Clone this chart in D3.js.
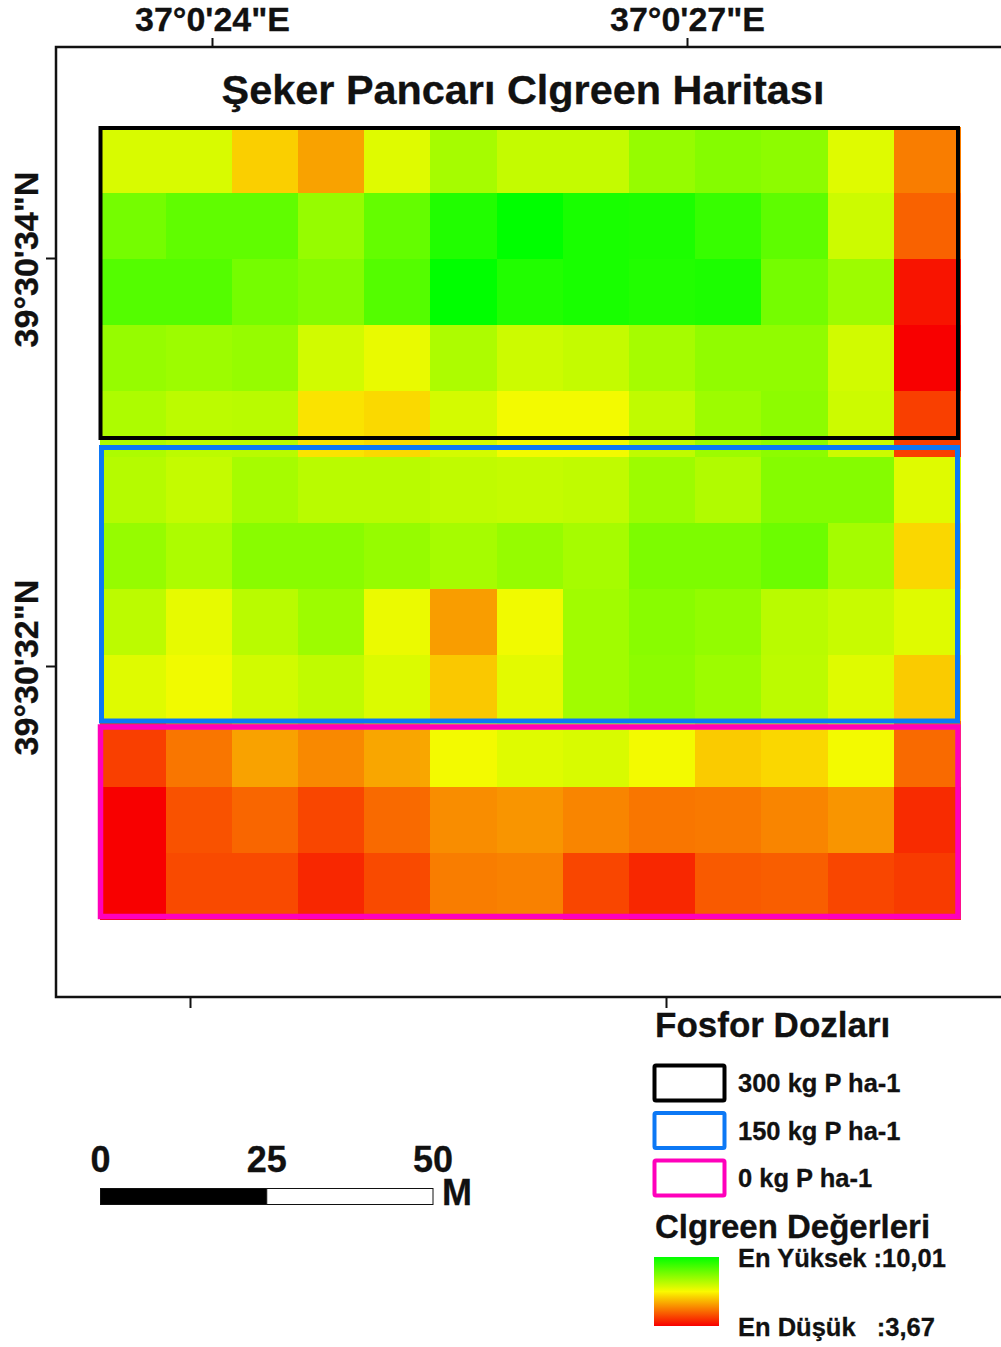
<!DOCTYPE html>
<html>
<head>
<meta charset="utf-8">
<title>Şeker Pancarı Clgreen Haritası</title>
<script src="https://cdn.jsdelivr.net/npm/d3@7"></script>
<style>
  html, body { margin: 0; padding: 0; background: #fff; }
  svg { display: block; }
  text { font-family: "Liberation Sans", Arial, sans-serif; font-weight: bold; fill: #111; stroke: #111; stroke-width: 0.3; white-space: pre; }
</style>
</head>
<body>
<svg width="1001" height="1347"></svg>
<script>
// Clgreen value per raster cell, north to south
const row0 = [7.27, 7.27, 6.30, 5.72, 7.18, 7.90, 7.52, 7.52, 8.11, 8.32, 8.22, 7.18, 5.25];
const row1 = [8.53, 8.79, 8.79, 8.11, 8.74, 9.59, 10.01, 9.71, 9.66, 9.31, 8.82, 7.42, 4.91];
const row2 = [8.95, 8.95, 8.53, 8.32, 8.95, 10.01, 9.59, 9.71, 9.59, 9.66, 8.53, 8.02, 3.92];
const row3 = [8.11, 8.02, 8.11, 7.36, 7.05, 7.82, 7.42, 7.52, 7.90, 8.17, 8.17, 7.36, 3.67];
const row4 = [7.82, 7.62, 7.67, 6.55, 6.42, 7.32, 6.93, 6.93, 7.57, 8.02, 8.22, 7.42, 4.47];
const row5 = [7.72, 7.52, 7.90, 7.67, 7.67, 7.57, 7.52, 7.57, 8.02, 7.77, 8.32, 8.32, 7.18];
const row6 = [8.11, 7.82, 8.27, 8.27, 8.11, 7.90, 8.11, 7.90, 8.42, 8.42, 8.64, 7.92, 6.40];
const row7 = [7.62, 7.08, 7.67, 8.02, 7.03, 5.66, 6.95, 7.97, 8.27, 8.15, 7.67, 7.47, 7.18];
const row8 = [7.18, 6.95, 7.36, 7.57, 7.23, 6.21, 7.13, 7.97, 8.22, 8.02, 7.62, 7.18, 6.25];
const row9 = [4.47, 5.16, 5.72, 5.41, 5.78, 6.93, 7.18, 7.27, 6.93, 6.25, 6.40, 6.93, 5.01];
const row10 = [3.67, 4.71, 4.96, 4.56, 5.01, 5.46, 5.56, 5.36, 5.16, 5.21, 5.36, 5.56, 4.22];
const row11 = [3.67, 4.61, 4.61, 4.17, 4.61, 5.26, 5.31, 4.56, 4.17, 4.81, 4.86, 4.56, 4.42];
const rows = [row0, row1, row2, row3, row4, row5, row6, row7, row8, row9, row10, row11];

const doseLabels = ['300 kg P ha-1', '150 kg P ha-1', '0 kg P ha-1'];
const doseColors = ['#000000', '#0c78f5', '#ff00bb'];

const lonTicks = [24, 27];
const latTicks = [34, 32];
const bottomTicks = [0, 1];
const scaleBarTicks = [0, 25, 50];
const minValue = 3.67;
const maxValue = 10.01;

const svg = d3.select('svg');

const color = d3.scaleLinear()
    .domain([minValue, (minValue + maxValue) / 2, maxValue])
    .range(['#f80000', '#fafa00', '#00ff00']);

const x = d3.scaleBand().domain(d3.range(row0.length)).range([99.5, 960]);
const y = d3.scaleBand().domain(d3.range(rows.length)).range([126.5, 919.5]);

// raster
const raster = svg.append('g');
rows.forEach((values, r) => {
    raster.selectAll(null)
        .data(values)
        .join('rect')
        .attr('x', (d, c) => x(c))
        .attr('y', y(r))
        .attr('width', x.bandwidth() + 0.5)
        .attr('height', y.bandwidth() + 0.5)
        .attr('fill', d => color(d))
        .attr('shape-rendering', 'crispEdges');
});

// dose plot outlines, they sit a little off the raster rows
const plotLeft = [100.5, 101.5, 100.5];
const plotRight = [958, 957.5, 958];
const plotTop = [128, 447.5, 727];
const plotBottom = [438, 721, 916.5];
const plotStroke = [4, 5, 5.5];

svg.append('g').selectAll('rect')
    .data(doseLabels)
    .join('rect')
    .attr('x', (d, i) => plotLeft[i])
    .attr('y', (d, i) => plotTop[i])
    .attr('width', (d, i) => plotRight[i] - plotLeft[i])
    .attr('height', (d, i) => plotBottom[i] - plotTop[i])
    .attr('fill', 'none')
    .attr('stroke', (d, i) => doseColors[i])
    .attr('stroke-width', (d, i) => plotStroke[i]);

// map frame
const frame = svg.append('g');
frame.append('path')
    .attr('d', 'M1001,47H56V997H1001')
    .attr('fill', 'none')
    .attr('stroke', '#111')
    .attr('stroke-width', 2.5);

const lon = d3.scaleLinear().domain([24, 27]).range([212, 687]);
const lat = d3.scaleLinear().domain([34, 32]).range([258, 666]);
const lonBottom = d3.scaleLinear().domain([0, 1]).range([190, 666]);

const topAxis = svg.append('g')
    .attr('transform', 'translate(0,47)')
    .call(d3.axisTop(lon).tickValues(lonTicks).tickSize(9).tickPadding(7).tickFormat(d => `37°0'${d}"E`));
topAxis.select('.domain').remove();
topAxis.selectAll('text').attr('font-size', 34).attr('fill', '#111');

const leftAxis = svg.append('g')
    .attr('transform', 'translate(56,0)')
    .call(d3.axisLeft(lat).tickValues(latTicks).tickSize(10).tickFormat(d => `39°30'${d}"N`));
leftAxis.select('.domain').remove();
leftAxis.selectAll('text')
    .attr('font-size', 34)
    .attr('fill', '#111')
    .attr('text-anchor', 'middle')
    .attr('dy', null)
    .attr('x', null)
    .attr('transform', 'translate(-18,1) rotate(-90)');

const bottomAxis = svg.append('g')
    .attr('transform', 'translate(0,997)')
    .call(d3.axisBottom(lonBottom).tickValues(bottomTicks).tickSize(11).tickFormat(''));
bottomAxis.select('.domain').remove();

svg.selectAll('.tick line').attr('stroke', '#111').attr('stroke-width', 2);

svg.append('text')
    .attr('x', 523)
    .attr('y', 104)
    .attr('text-anchor', 'middle')
    .attr('font-size', 41.4)
    .text('Şeker Pancarı Clgreen Haritası');

// dose legend
svg.append('text')
    .attr('x', 655)
    .attr('y', 1037)
    .attr('font-size', 35)
    .text('Fosfor Dozları');

const legendY = d3.scalePoint().domain(doseLabels).range([1083, 1178]);

const legendRows = svg.append('g').selectAll('g')
    .data(doseLabels)
    .join('g')
    .attr('transform', d => `translate(0,${legendY(d)})`);

legendRows.append('rect')
    .attr('x', 654.5)
    .attr('y', -17.5)
    .attr('width', 70)
    .attr('height', 35)
    .attr('rx', 1.5)
    .attr('fill', 'none')
    .attr('stroke', (d, i) => doseColors[i])
    .attr('stroke-width', 4);

legendRows.append('text')
    .attr('x', 738)
    .attr('y', 9)
    .attr('font-size', 25.5)
    .text(d => d);

// value legend
svg.append('text')
    .attr('x', 655)
    .attr('y', 1238)
    .attr('font-size', 33)
    .text('Clgreen Değerleri');

const gradient = svg.append('defs').append('linearGradient')
    .attr('id', 'valueRamp')
    .attr('x1', 0).attr('x2', 0)
    .attr('y1', 0).attr('y2', 1);

gradient.selectAll('stop')
    .data(color.domain().slice().reverse())
    .join('stop')
    .attr('offset', (d, i) => i / 2)
    .attr('stop-color', d => color(d));

svg.append('rect')
    .attr('x', 654)
    .attr('y', 1257)
    .attr('width', 65)
    .attr('height', 69)
    .attr('fill', 'url(#valueRamp)');

svg.append('text')
    .attr('x', 738)
    .attr('y', 1267)
    .attr('font-size', 25.5)
    .text('En Yüksek :10,01');

svg.append('text')
    .attr('x', 738)
    .attr('y', 1336)
    .attr('font-size', 25.5)
    .text('En Düşük   :3,67');

// scale bar
const barX = d3.scaleLinear().domain([0, 50]).range([100.5, 433]);

svg.append('g').selectAll('rect')
    .data(d3.pairs(scaleBarTicks))
    .join('rect')
    .attr('x', d => barX(d[0]))
    .attr('y', 1188.5)
    .attr('width', d => barX(d[1]) - barX(d[0]))
    .attr('height', 16)
    .attr('fill', (d, i) => i === 0 ? '#000' : '#fff')
    .attr('stroke', '#111')
    .attr('stroke-width', 1);

svg.append('g').selectAll('text')
    .data(scaleBarTicks)
    .join('text')
    .attr('x', d => barX(d))
    .attr('y', 1172)
    .attr('text-anchor', 'middle')
    .attr('font-size', 36)
    .text(d => d);

svg.append('text')
    .attr('x', 442)
    .attr('y', 1205)
    .attr('font-size', 36)
    .text('M');
</script>
</body>
</html>
